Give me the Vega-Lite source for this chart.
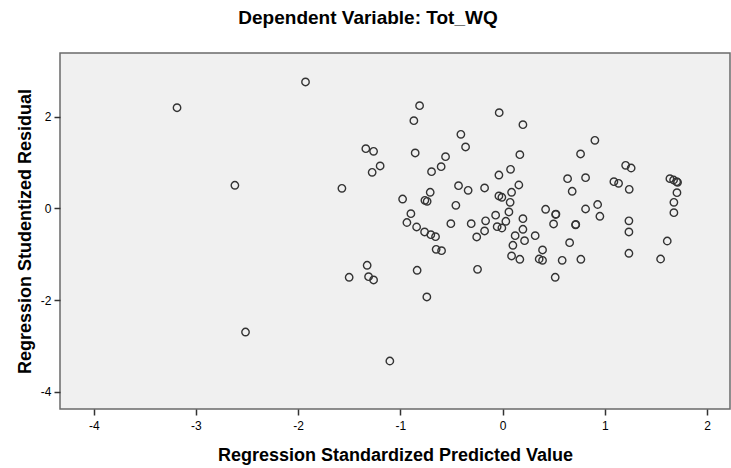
{
  "$schema": "https://vega.github.io/schema/vega-lite/v6.json",
  "width": 670,
  "height": 356,
  "autosize": "none",
  "padding": {"left": 60, "top": 53, "right": 1, "bottom": 59},
  "background": "#ffffff",
  "title": {
    "text": "Dependent Variable: Tot_WQ",
    "font": "Liberation Sans",
    "fontSize": 19,
    "fontWeight": "bold",
    "color": "#000000",
    "anchor": "middle",
    "frame": "group",
    "dx": -27,
    "offset": 25
  },
  "config": {
    "view": {"fill": "#f0f0f0", "stroke": "#6a6a6a", "strokeWidth": 1.5},
    "axis": {
      "labelFont": "Liberation Sans",
      "titleFont": "Liberation Sans",
      "labelColor": "#000000",
      "titleColor": "#000000",
      "tickColor": "#333333",
      "grid": false,
      "domain": false
    }
  },
  "data": {
    "values": [
      {"pred": -3.185, "resid": 2.20},
      {"pred": -2.619, "resid": 0.507},
      {"pred": -2.515, "resid": -2.697},
      {"pred": -1.928, "resid": 2.762},
      {"pred": -0.812, "resid": 2.245},
      {"pred": -0.868, "resid": 1.917},
      {"pred": -0.408, "resid": 1.620},
      {"pred": -0.362, "resid": 1.343},
      {"pred": -1.338, "resid": 1.306},
      {"pred": -1.262, "resid": 1.249},
      {"pred": -0.855, "resid": 1.212},
      {"pred": -0.558, "resid": 1.131},
      {"pred": -1.198, "resid": 0.928},
      {"pred": -0.601, "resid": 0.913},
      {"pred": -1.276, "resid": 0.790},
      {"pred": -0.695, "resid": 0.803},
      {"pred": -1.572, "resid": 0.441},
      {"pred": -0.431, "resid": 0.498},
      {"pred": -0.337, "resid": 0.397},
      {"pred": -0.708, "resid": 0.354},
      {"pred": -0.978, "resid": 0.207},
      {"pred": -0.760, "resid": 0.179},
      {"pred": -0.738, "resid": 0.157},
      {"pred": -0.457, "resid": 0.070},
      {"pred": -0.897, "resid": -0.114},
      {"pred": -0.936, "resid": -0.306},
      {"pred": -0.841, "resid": -0.404},
      {"pred": -0.763, "resid": -0.513},
      {"pred": -0.702, "resid": -0.572},
      {"pred": -0.656, "resid": -0.616},
      {"pred": -0.506, "resid": -0.332},
      {"pred": -0.307, "resid": -0.332},
      {"pred": -0.253, "resid": -0.622},
      {"pred": -0.650, "resid": -0.891},
      {"pred": -0.597, "resid": -0.921},
      {"pred": -1.325, "resid": -1.240},
      {"pred": -1.501, "resid": -1.502},
      {"pred": -1.311, "resid": -1.489},
      {"pred": -1.262, "resid": -1.561},
      {"pred": -0.836, "resid": -1.349},
      {"pred": -0.245, "resid": -1.328},
      {"pred": -0.741, "resid": -1.932},
      {"pred": -1.103, "resid": -3.330},
      {"pred": -0.033, "resid": 2.092},
      {"pred": 0.199, "resid": 1.830},
      {"pred": 0.903, "resid": 1.489},
      {"pred": 0.763, "resid": 1.190},
      {"pred": 0.169, "resid": 1.175},
      {"pred": 0.078, "resid": 0.856},
      {"pred": -0.036, "resid": 0.731},
      {"pred": 1.204, "resid": 0.943},
      {"pred": 1.258, "resid": 0.884},
      {"pred": 0.636, "resid": 0.651},
      {"pred": 0.812, "resid": 0.672},
      {"pred": 1.089, "resid": 0.585},
      {"pred": 1.135, "resid": 0.550},
      {"pred": 1.239, "resid": 0.419},
      {"pred": 1.637, "resid": 0.651},
      {"pred": 1.673, "resid": 0.622},
      {"pred": 1.703, "resid": 0.585},
      {"pred": 1.712, "resid": 0.572},
      {"pred": 1.706, "resid": 0.345},
      {"pred": 1.676, "resid": 0.135},
      {"pred": 1.676, "resid": -0.092},
      {"pred": -0.176, "resid": 0.448},
      {"pred": 0.159, "resid": 0.513},
      {"pred": 0.088, "resid": 0.354},
      {"pred": -0.036, "resid": 0.273},
      {"pred": -0.007, "resid": 0.245},
      {"pred": 0.074, "resid": 0.135},
      {"pred": 0.681, "resid": 0.376},
      {"pred": 0.062, "resid": -0.076},
      {"pred": -0.068, "resid": -0.146},
      {"pred": 0.421, "resid": -0.017},
      {"pred": 0.519, "resid": -0.131},
      {"pred": 0.522, "resid": -0.122},
      {"pred": 0.812, "resid": -0.011},
      {"pred": 0.930, "resid": 0.087},
      {"pred": 0.952, "resid": -0.170},
      {"pred": -0.166, "resid": -0.269},
      {"pred": 0.032, "resid": -0.279},
      {"pred": 0.199, "resid": -0.223},
      {"pred": -0.053, "resid": -0.397},
      {"pred": -0.007, "resid": -0.426},
      {"pred": 0.499, "resid": -0.338},
      {"pred": 0.714, "resid": -0.356},
      {"pred": 0.716, "resid": -0.348},
      {"pred": 1.236, "resid": -0.269},
      {"pred": 1.236, "resid": -0.513},
      {"pred": -0.176, "resid": -0.491},
      {"pred": 0.199, "resid": -0.454},
      {"pred": 0.123, "resid": -0.594},
      {"pred": 0.319, "resid": -0.594},
      {"pred": 0.215, "resid": -0.703},
      {"pred": 0.101, "resid": -0.803},
      {"pred": 0.656, "resid": -0.747},
      {"pred": 1.611, "resid": -0.710},
      {"pred": 0.391, "resid": -0.906},
      {"pred": 0.088, "resid": -1.037},
      {"pred": 0.169, "resid": -1.109},
      {"pred": 0.358, "resid": -1.103},
      {"pred": 0.391, "resid": -1.131},
      {"pred": 0.583, "resid": -1.131},
      {"pred": 0.766, "resid": -1.109},
      {"pred": 1.236, "resid": -0.978},
      {"pred": 1.546, "resid": -1.103},
      {"pred": 0.515, "resid": -1.502}
    ]
  },
  "mark": {
    "type": "point",
    "shape": "circle",
    "filled": false,
    "size": 55,
    "stroke": "#333333",
    "strokeWidth": 1.4,
    "opacity": 1
  },
  "encoding": {
    "x": {
      "field": "pred",
      "type": "quantitative",
      "title": "Regression Standardized Predicted Value",
      "scale": {"domain": [-4.33, 2.225], "nice": false, "zero": false},
      "axis": {
        "values": [-4, -3, -2, -1, 0, 1, 2],
        "labelExpr": "datum.value < 0 ? '-' + abs(datum.value) : '' + datum.value",
        "tickSize": 6,
        "tickWidth": 1.5,
        "labelFontSize": 12,
        "labelPadding": 5,
        "titleFontSize": 18,
        "titleFontWeight": "bold",
        "titlePadding": 15,
        "titleAnchor": "middle"
      }
    },
    "y": {
      "field": "resid",
      "type": "quantitative",
      "title": "Regression Studentized Residual",
      "scale": {"domain": [-4.378, 3.395], "nice": false, "zero": false},
      "axis": {
        "values": [-4, -2, 0, 2],
        "labelExpr": "datum.value < 0 ? '-' + abs(datum.value) : '' + datum.value",
        "tickSize": 6,
        "tickWidth": 1.5,
        "labelFontSize": 12,
        "labelPadding": 3,
        "titleFontSize": 18,
        "titleFontWeight": "bold",
        "titlePadding": 6,
        "titleAnchor": "middle"
      }
    }
  }
}
